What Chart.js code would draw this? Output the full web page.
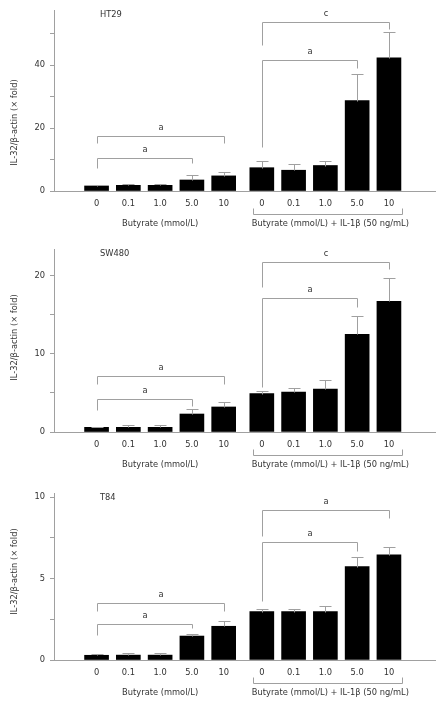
<!DOCTYPE html>
<html>
<head>
<meta charset="utf-8">
<script src="https://cdn.jsdelivr.net/npm/chart.js@4"></script>
<style>
  body { margin: 0; background: #fff; }
  .panel { position: relative; width: 442px; }
</style>
</head>
<body>
<div class="panel" style="height:236px"><canvas id="ht29"></canvas></div>
<div class="panel" style="height:236px"><canvas id="sw480"></canvas></div>
<div class="panel" style="height:237px"><canvas id="t84"></canvas></div>
<script>
const doses = ['0', '0.1', '1.0', '5.0', '10', '0', '0.1', '1.0', '5.0', '10'];
const groupTitles = ['Butyrate (mmol/L)', 'Butyrate (mmol/L) + IL-1β (50 ng/mL)'];
const yTitle = 'IL-32/β-actin (× fold)';

const ht29Means = [1.6, 1.8, 1.8, 3.5, 4.8, 7.4, 6.6, 8.1, 28.7, 42.3];
const ht29Errors = [0.2, 0.4, 0.4, 1.6, 1.3, 2.2, 2.0, 1.5, 8.4, 8.1];
const ht29Brackets = [
  { from: 0, to: 3, y: 10.5, fromEnd: 7.3, toEnd: 8.9, label: 'a' },
  { from: 0, to: 4, y: 17.5, fromEnd: 15.2, toEnd: 15.2, label: 'a' },
  { from: 5, to: 8, y: 41.6, fromEnd: 14.0, toEnd: 39.0, label: 'a' },
  { from: 5, to: 9, y: 53.7, fromEnd: 46.3, toEnd: 51.4, label: 'c' },
];

const sw480Means = [0.6, 0.6, 0.6, 2.3, 3.2, 4.9, 5.1, 5.5, 12.5, 16.7];
const sw480Errors = [0.1, 0.3, 0.3, 0.6, 0.6, 0.4, 0.5, 1.1, 2.3, 3.0];
const sw480Brackets = [
  { from: 0, to: 3, y: 4.2, fromEnd: 2.85, toEnd: 3.3, label: 'a' },
  { from: 0, to: 4, y: 7.1, fromEnd: 6.2, toEnd: 6.2, label: 'a' },
  { from: 5, to: 8, y: 17.1, fromEnd: 5.8, toEnd: 16.0, label: 'a' },
  { from: 5, to: 9, y: 21.7, fromEnd: 18.6, toEnd: 20.8, label: 'c' },
];

const t84Means = [0.29, 0.3, 0.3, 1.47, 2.07, 2.97, 2.97, 2.97, 5.73, 6.46];
const t84Errors = [0.05, 0.1, 0.1, 0.13, 0.33, 0.18, 0.18, 0.33, 0.61, 0.47];
const t84Brackets = [
  { from: 0, to: 3, y: 2.19, fromEnd: 1.55, toEnd: 1.96, label: 'a' },
  { from: 0, to: 4, y: 3.5, fromEnd: 2.99, toEnd: 2.99, label: 'a' },
  { from: 5, to: 8, y: 7.22, fromEnd: 3.6, toEnd: 6.67, label: 'a' },
  { from: 5, to: 9, y: 9.22, fromEnd: 7.63, toEnd: 8.7, label: 'a' },
];

// the two dose groups sit a little further apart than the bars within a group
const groupGap = 0.2;
const xPositions = doses.map((dose, i) => i + (i >= 5 ? groupGap : 0));

const FONT = 'DejaVu Sans';
const FONT_SIZE = 8.3;
const TEXT = '#333';
const LINE = '#a0a0a0';

Chart.defaults.font.family = FONT;
Chart.defaults.font.size = FONT_SIZE;
Chart.defaults.color = TEXT;

const decorations = {
  id: 'decorations',
  afterDatasetsDraw(chart, args, opts) {
    const { ctx, chartArea } = chart;
    const xs = chart.scales.x;
    const ys = chart.scales.y;
    const px = i => Math.round(xs.getPixelForValue(xPositions[i])) + 0.5;
    const py = v => Math.round(ys.getPixelForValue(v)) + 0.5;

    ctx.save();
    ctx.strokeStyle = LINE;
    ctx.lineWidth = 1;

    // error bars (upper half only)
    opts.means.forEach((mean, i) => {
      const x = px(i);
      const yTop = py(mean + opts.errors[i]);
      ctx.beginPath();
      ctx.moveTo(x, py(mean));
      ctx.lineTo(x, yTop);
      ctx.moveTo(x - 6, yTop);
      ctx.lineTo(x + 6, yTop);
      ctx.stroke();
    });

    // significance brackets
    ctx.fillStyle = TEXT;
    ctx.font = `${FONT_SIZE}px "${FONT}"`;
    ctx.textAlign = 'center';
    ctx.textBaseline = 'middle';
    for (const b of opts.brackets) {
      const x1 = px(b.from);
      const x2 = px(b.to);
      const y = py(b.y);
      ctx.beginPath();
      ctx.moveTo(x1, py(b.fromEnd));
      ctx.lineTo(x1, y);
      ctx.lineTo(x2, y);
      ctx.lineTo(x2, py(b.toEnd));
      ctx.stroke();
      ctx.fillText(b.label, (x1 + x2) / 2, y - 9);
    }

    // group titles and the bracket under the second group
    const titleY = chartArea.bottom + 33;
    ctx.fillText(groupTitles[0], xs.getPixelForValue((xPositions[0] + xPositions[4]) / 2), titleY);
    ctx.fillText(groupTitles[1], xs.getPixelForValue((xPositions[5] + xPositions[9]) / 2) + 5, titleY);

    const bx1 = px(5) - 9;
    const bx2 = px(9) + 13;
    const by = chartArea.bottom + 23.5;
    ctx.beginPath();
    ctx.moveTo(bx1, by - 6);
    ctx.lineTo(bx1, by);
    ctx.lineTo(bx2, by);
    ctx.lineTo(bx2, by - 6);
    ctx.stroke();

    // cell line name
    ctx.textAlign = 'left';
    ctx.fillText(opts.name, chartArea.left + 46, chartArea.top + 5);

    // y title, not always centred on the plot in the original
    ctx.translate(15, (chartArea.top + chartArea.bottom) / 2 + opts.titleShift);
    ctx.rotate(-Math.PI / 2);
    ctx.textAlign = 'center';
    ctx.fillText(yTitle, 0, 0);
    ctx.restore();
  },
};

function makeChart(canvasId, panel) {
  return new Chart(document.getElementById(canvasId), {
    type: 'bar',
    data: {
      datasets: [{
        data: panel.means.map((mean, i) => ({ x: xPositions[i], y: mean })),
        backgroundColor: '#000',
        barThickness: 24,
      }],
    },
    options: {
      responsive: true,
      maintainAspectRatio: false,
      animation: false,
      events: [],
      layout: { padding: { top: panel.top, right: 7, left: 0, bottom: 0 } },
      plugins: {
        legend: { display: false },
        tooltip: { enabled: false },
        decorations: panel,
      },
      scales: {
        x: {
          type: 'linear',
          bounds: 'data',
          min: -0.74,
          max: xPositions[9] + 0.85,
          grid: { display: false, drawTicks: false, tickLength: 0 },
          border: { color: LINE },
          ticks: { autoSkip: false, maxRotation: 0, padding: 8, callback: (value, index) => doses[index] },
          afterBuildTicks: scale => { scale.ticks = xPositions.map(value => ({ value })); },
          afterFit: scale => { scale.height = panel.axisHeight; },
        },
        y: {
          min: 0,
          max: panel.max,
          border: { color: LINE },
          grid: { drawOnChartArea: false, drawTicks: true, tickLength: 4, color: LINE },
          ticks: {
            stepSize: panel.step,
            includeBounds: false,
            autoSkip: false,
            padding: 5,
            callback: value => (value % panel.labelStep === 0 ? value : ''),
          },
          afterFit: scale => { scale.width = 54; },
        },
      },
    },
    plugins: [decorations],
  });
}

makeChart('ht29', {
  name: 'HT29', means: ht29Means, errors: ht29Errors, brackets: ht29Brackets,
  max: 57.5, step: 10, labelStep: 20, top: 10, axisHeight: 45, titleShift: 22,
});
makeChart('sw480', {
  name: 'SW480', means: sw480Means, errors: sw480Errors, brackets: sw480Brackets,
  max: 23.4, step: 5, labelStep: 10, top: 13, axisHeight: 40, titleShift: -3,
});
makeChart('t84', {
  name: 'T84', means: t84Means, errors: t84Errors, brackets: t84Brackets,
  max: 10.25, step: 2.5, labelStep: 5, top: 21, axisHeight: 49, titleShift: -5,
});
</script>
</body>
</html>
